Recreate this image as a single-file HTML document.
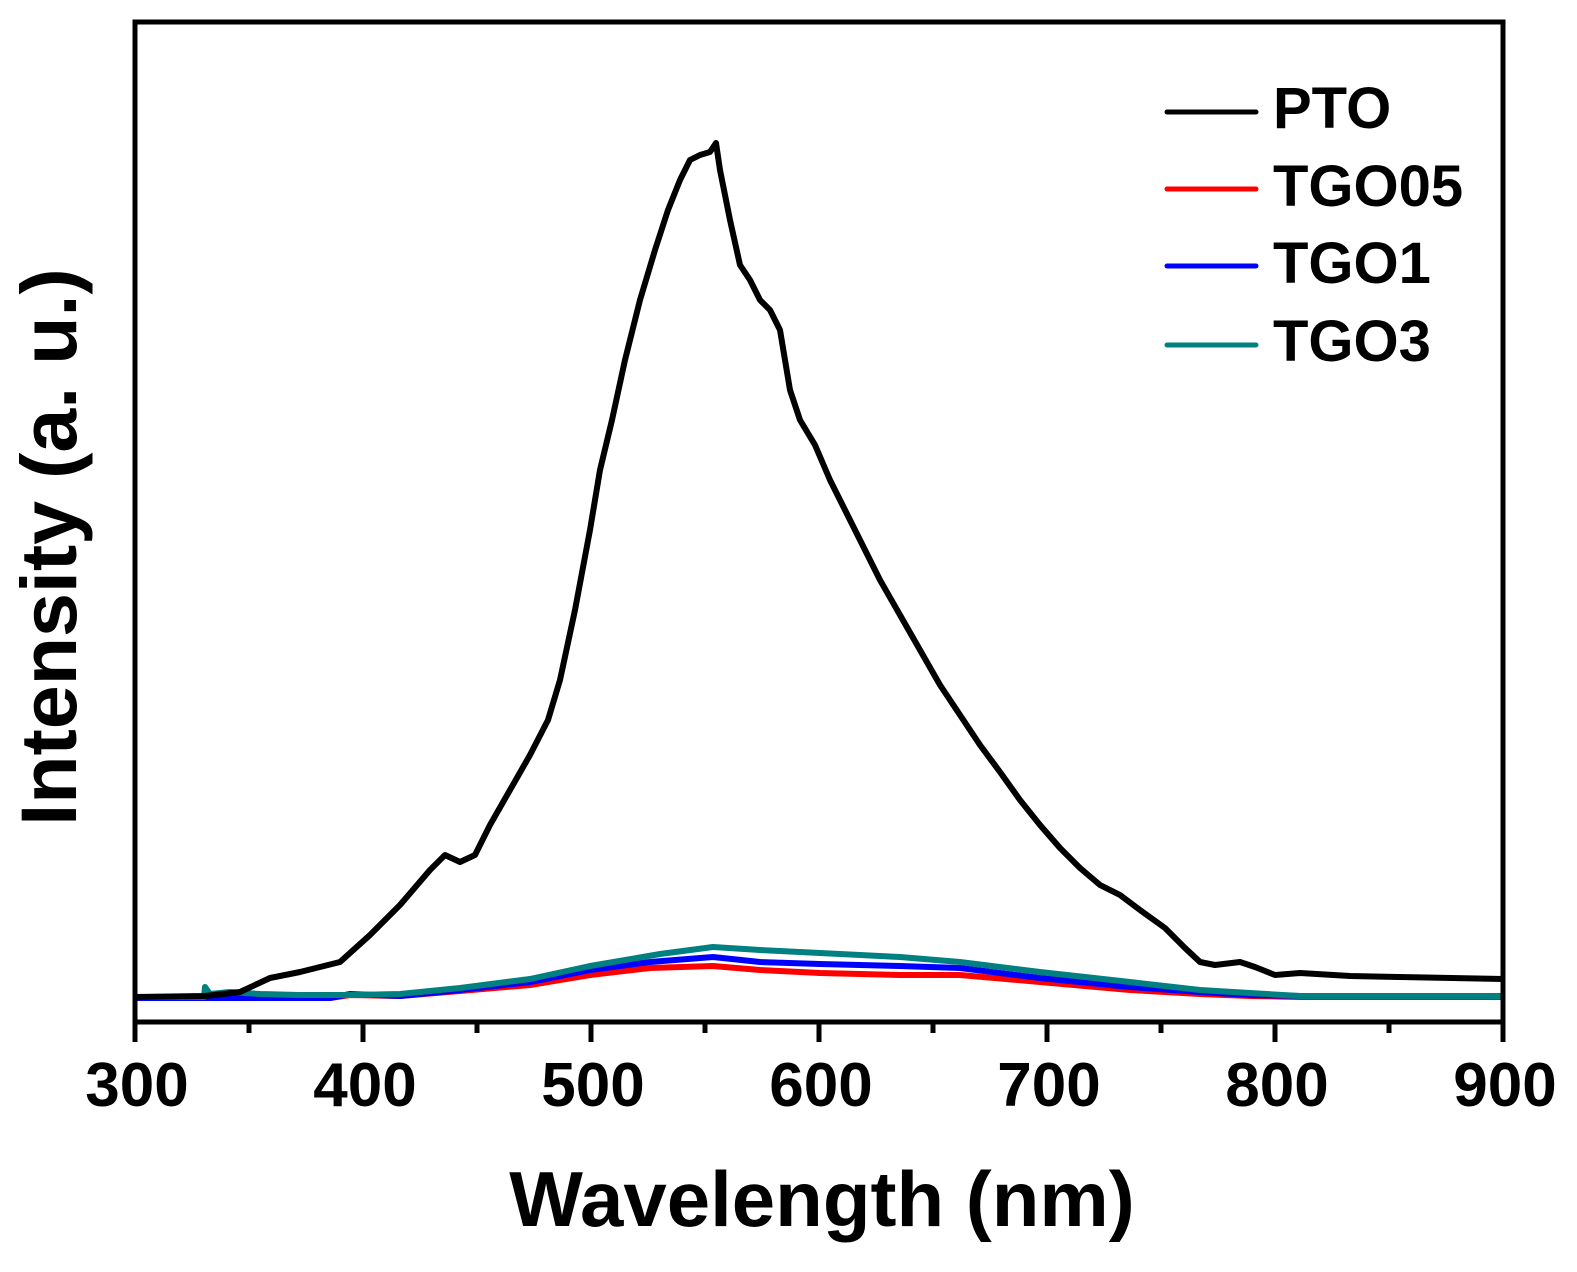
<!DOCTYPE html>
<html><head><meta charset="utf-8"><style>
html,body{margin:0;padding:0;background:#fff;}
svg text{font-family:"Liberation Sans",Arial,sans-serif;font-weight:bold;fill:#000;}
</style></head><body>
<svg width="1577" height="1267" viewBox="0 0 1577 1267" xmlns="http://www.w3.org/2000/svg">
<rect width="1577" height="1267" fill="#fff"/>
<polyline fill="none" stroke="#ff0000" stroke-width="6" stroke-linejoin="round" points="135,998 330,998 350,995 400,996 460,991 530,985 590,975 650,968 713,966 760,970 820,973 900,975 960,975 1040,982 1130,990 1200,994 1250,996 1300,997 1503,997"/>
<polyline fill="none" stroke="#0000ff" stroke-width="6" stroke-linejoin="round" points="135,998 330,998 350,994 400,996 460,990 530,982 590,970 650,962 713,957 760,962 820,964 900,966 960,968 1040,978 1130,987 1200,992 1250,995 1300,996 1503,996"/>
<polyline fill="none" stroke="#008080" stroke-width="6" stroke-linejoin="round" points="135,997 204,997 205,987 210,994 230,992 260,994 300,995 350,995 400,994 460,988 530,979 590,966 660,954 713,947 760,950 820,953 900,957 960,962 1040,972 1130,982 1200,990 1250,993 1300,996 1503,996"/>
<polyline fill="none" stroke="#000" stroke-width="6" stroke-linejoin="round" points="135,997 205,996 240,992 270,978 300,972 340,962 370,935 400,905 430,870 445,855 460,862 475,855 490,825 510,790 530,755 548,720 560,680 575,610 590,530 600,470 612,420 625,360 640,300 655,250 668,210 680,180 690,160 700,155 710,152 716,143 720,170 730,220 740,265 750,280 760,300 770,310 780,330 790,390 800,420 815,445 830,480 845,510 860,540 880,580 900,615 920,650 940,685 960,715 980,745 1000,772 1020,800 1040,825 1060,848 1080,868 1100,885 1120,895 1140,910 1165,928 1185,948 1200,962 1215,965 1240,962 1255,967 1275,975 1300,973 1350,976 1400,977 1503,979"/>
<rect x="135" y="22" width="1368" height="1000" fill="none" stroke="#000" stroke-width="5"/>
<g stroke="#000" stroke-width="5">
<line x1="135" y1="1022" x2="135" y2="1042"/><line x1="363" y1="1022" x2="363" y2="1042"/><line x1="591" y1="1022" x2="591" y2="1042"/><line x1="819" y1="1022" x2="819" y2="1042"/><line x1="1047" y1="1022" x2="1047" y2="1042"/><line x1="1275" y1="1022" x2="1275" y2="1042"/><line x1="1503" y1="1022" x2="1503" y2="1042"/>
<line x1="249" y1="1022" x2="249" y2="1033"/><line x1="477" y1="1022" x2="477" y2="1033"/><line x1="705" y1="1022" x2="705" y2="1033"/><line x1="933" y1="1022" x2="933" y2="1033"/><line x1="1161" y1="1022" x2="1161" y2="1033"/><line x1="1389" y1="1022" x2="1389" y2="1033"/>
</g>
<g font-size="62" text-anchor="middle">
<text x="137" y="1106">300</text><text x="365" y="1106">400</text><text x="593" y="1106">500</text><text x="821" y="1106">600</text><text x="1049" y="1106">700</text><text x="1277" y="1106">800</text><text x="1505" y="1106">900</text>
</g>
<text x="822" y="1226" font-size="78" text-anchor="middle">Wavelength (nm)</text>
<text transform="translate(76,547) rotate(-90)" font-size="79" text-anchor="middle">Intensity (a. u.)</text>
<g stroke-width="5" stroke-linecap="round">
<line x1="1167" y1="112" x2="1256" y2="112" stroke="#000"/>
<line x1="1167" y1="189" x2="1256" y2="189" stroke="#ff0000"/>
<line x1="1167" y1="266" x2="1256" y2="266" stroke="#0000ff"/>
<line x1="1167" y1="345" x2="1256" y2="345" stroke="#008080"/>
</g>
<g font-size="58">
<text x="1273" y="128">PTO</text><text x="1273" y="206">TGO05</text><text x="1273" y="283">TGO1</text><text x="1273" y="361">TGO3</text>
</g>
</svg>
</body></html>
